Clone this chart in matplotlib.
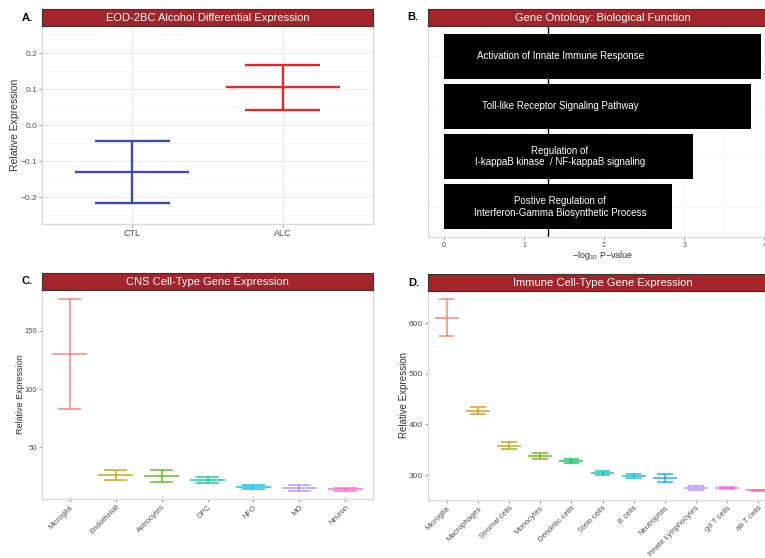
import matplotlib
matplotlib.use("Agg")
import matplotlib.pyplot as plt

plt.rcParams['font.family'] = ['Liberation Sans', 'DejaVu Sans']
plt.rcParams['mathtext.fontset'] = 'custom'
plt.rcParams['mathtext.rm'] = 'Liberation Sans'
plt.rcParams['mathtext.it'] = 'Liberation Sans:italic'

# ---------------- data ----------------
a_groups = ["CTL", "ALC"]
a_mean = [-0.130, 0.105]
a_upper = [-0.044, 0.166]
a_lower = [-0.217, 0.043]
a_colors = ["#3A4FA3", "#E8262B"]

b_terms = ["Activation of Innate Immune Response",
           "Toll-like Receptor Signaling Pathway",
           "Regulation of\nI-kappaB kinase  / NF-kappaB signaling",
           "Postive Regulation of\nInterferon-Gamma Biosynthetic Process"]
b_values = [3.96, 3.83, 3.11, 2.85]
b_threshold = 1.301
b_ticks = [0, 1, 2, 3, 4]

c_cells = ["Microglia", "Endothelial", "Astrocytes", "OPC", "NFO", "MO", "Neuron"]
c_mean = [130.0, 26.0, 25.7, 21.7, 16.1, 15.3, 13.9]
c_upper = [177.2, 30.3, 30.3, 24.6, 17.5, 17.9, 15.2]
c_lower = [82.6, 21.7, 20.5, 19.0, 14.7, 12.7, 12.9]
c_colors = ["#F8766D", "#C49A00", "#53B400", "#00C094", "#00B6EB", "#A58AFF", "#FB61D7"]
c_yticks = [50, 100, 150]

d_cells = ["Microglia", "Macrophages", "Stromal cells", "Monocytes", "Dendritic cells",
           "Stem cells", "B cells", "Neutrophils", "Innate Lymphocytes", "gd T cells", "ab T cells"]
d_mean = [611, 426.9, 358, 337.5, 328.3, 304.6, 298.6, 293.4, 274.9, 274.9, 269.6]
d_upper = [647.4, 434.2, 364.6, 344.1, 332.3, 308.5, 301.3, 301.3, 279, 276.9, 270.9]
d_lower = [575, 419.8, 350.8, 331, 324.3, 300.6, 295, 285.5, 271, 272.9, 267.6]
d_colors = ["#F8766D", "#DB8E00", "#AEA200", "#64B200", "#00BD5C", "#00C1A7",
            "#00BADE", "#00A6FF", "#B385FF", "#EF67EB", "#FF63B6"]
d_yticks = [300, 400, 500, 600]

# ---------------- layout helpers ----------------
W, H = 765, 558
fig = plt.figure(figsize=(W / 100, H / 100), dpi=100)
fig.patch.set_facecolor("white")

STRIP = "#A4242A"
BORDER = "#D9D9D9"
TICKC = "#4D4D4D"


def px_axes(l, t, r, b, **kw):
    return fig.add_axes([l / W, 1 - b / H, (r - l) / W, (b - t) / H], **kw)


def strip(l, t, r, b, title):
    s = px_axes(l, t, r, b)
    s.set_facecolor(STRIP)
    s.set_xticks([]); s.set_yticks([])
    for sp in s.spines.values():
        sp.set_color("#333333"); sp.set_linewidth(0.8)
    s.text(0.5, 0.45, title, color="white", ha="center", va="center",
           fontsize=8, transform=s.transAxes)
    return s


def style(ax, size=5.5):
    for sp in ax.spines.values():
        sp.set_color(BORDER); sp.set_linewidth(1.0)
    ax.tick_params(labelsize=size, length=2, width=0.6, pad=1.5)
    ax.tick_params(axis='x', colors="#888888", labelcolor=TICKC)
    ax.tick_params(axis='y', colors="#888888", labelcolor=TICKC)


def ylabel_px(ax, text, x_px, left_px, width_px, size):
    ax.set_ylabel(text, fontsize=size, color="#333333")
    ax.yaxis.set_label_coords((x_px - left_px) / width_px, 0.5)


def errplot(ax, means, ups, lows, colors, lw, alpha, mean_w=0.38, cap_w=0.25):
    for i, (m, u, lo, c) in enumerate(zip(means, ups, lows, colors)):
        x = i + 1
        ax.hlines(m, x - mean_w, x + mean_w, color=c, lw=lw, alpha=alpha)
        ax.hlines([u, lo], x - cap_w, x + cap_w, color=c, lw=lw, alpha=alpha)
        ax.vlines(x, lo, u, color=c, lw=lw, alpha=alpha)


# ---------------- Panel A ----------------
axA = px_axes(42, 26, 373, 224)
style(axA, 6)
axA.set_xlim(0.4, 2.6)
axA.set_ylim(-0.275, 0.275)
axA.set_yticks([-0.2, -0.1, 0.0, 0.1, 0.2])
axA.set_yticklabels(["\u22120.2", "\u22120.1", "0.0", "0.1", "0.2"])
axA.set_yticks([-0.25, -0.15, -0.05, 0.05, 0.15, 0.25], minor=True)
axA.tick_params(axis='y', which='minor', length=0)
axA.set_xticks([1, 2])
axA.set_xticklabels(a_groups, fontsize=6.5)
axA.grid(True, which='major', color="#EBEBEB", lw=0.7)
axA.grid(True, which='minor', axis='y', color="#F3F3F3", lw=0.5)
axA.set_axisbelow(True)
errplot(axA, a_mean, a_upper, a_lower, a_colors, lw=1.7, alpha=1.0)
ylabel_px(axA, "Relative Expression", 20, 42, 331, 7.5)
strip(42, 9, 373, 26, "EOD-2BC Alcohol Differential Expression")
fig.text(22 / W, 1 - 18 / H, "A.", fontsize=8, fontweight="bold", va="center")

# ---------------- Panel B ----------------
axB = px_axes(428, 26, 777, 237)
style(axB)
axB.set_xlim(-0.198, 4.158)
axB.set_ylim(4.6, 0.4)
ypos = list(range(1, len(b_terms) + 1))
axB.barh(ypos, b_values, height=0.9, color="black")
axB.axvline(b_threshold, color="black", lw=1.0, zorder=0.5)
axB.set_xticks(b_ticks)
axB.set_xticks([0.5, 1.5, 2.5, 3.5], minor=True)
axB.tick_params(axis='x', which='minor', length=0)
axB.tick_params(axis='x', labelsize=5)
axB.set_yticks(ypos)
axB.set_yticklabels([])
axB.tick_params(axis='y', length=0)
axB.grid(True, which='both', color="#F0F0F0", lw=0.5)
axB.set_axisbelow(True)
for y, t in zip(ypos, b_terms):
    axB.text(1.45, y, t, color="white", ha="center", va="center", fontsize=7,
             linespacing=1.2)
axB.set_xlabel(r"$-$log$_{10}$ P$-$value", fontsize=6.5, color="#333333", labelpad=0)
strip(428, 9, 777, 26, "Gene Ontology: Biological Function")
fig.text(407 / W, 1 - 17 / H, "B.", fontsize=8, fontweight="bold", va="center")

# ---------------- Panel C ----------------
axC = px_axes(42, 290, 373, 499)
style(axC)
axC.set_xlim(0.4, len(c_cells) + 0.6)
axC.set_ylim(5.7, 185)
axC.set_yticks(c_yticks)
axC.set_xticks(range(1, len(c_cells) + 1))
axC.set_xticklabels(c_cells, rotation=45, ha="right", rotation_mode="anchor", fontsize=5.5)
errplot(axC, c_mean, c_upper, c_lower, c_colors, lw=1.3, alpha=0.75)
ylabel_px(axC, "Relative Expression", 25, 42, 331, 6.5)
strip(42, 273, 373, 290, "CNS Cell-Type Gene Expression")
fig.text(22 / W, 1 - 281 / H, "C.", fontsize=8, fontweight="bold", va="center")

# ---------------- Panel D ----------------
axD = px_axes(428, 291, 777, 500)
style(axD, 6)
axD.set_xlim(0.4, len(d_cells) + 0.6)
axD.set_ylim(250.6, 664)
axD.set_yticks(d_yticks)
axD.set_xticks(range(1, len(d_cells) + 1))
axD.set_xticklabels(d_cells, rotation=45, ha="right", rotation_mode="anchor", fontsize=5.5)
errplot(axD, d_mean, d_upper, d_lower, d_colors, lw=1.3, alpha=0.75)
ylabel_px(axD, "Relative Expression", 409, 428, 349, 7)
strip(428, 274, 777, 291, "Immune Cell-Type Gene Expression")
fig.text(408 / W, 1 - 283 / H, "D.", fontsize=8, fontweight="bold", va="center")

fig.savefig("out.png", dpi=100, facecolor="white")
